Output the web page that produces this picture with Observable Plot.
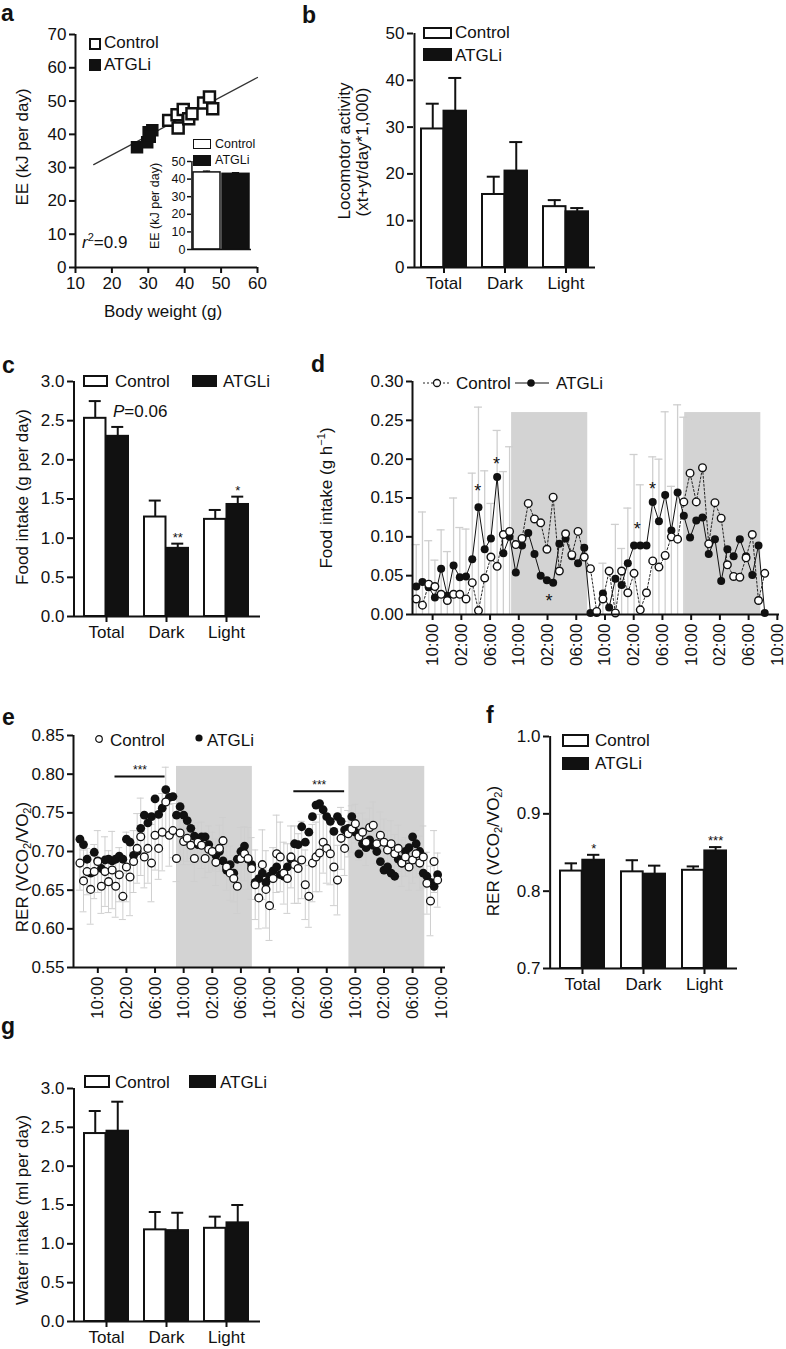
<!DOCTYPE html>
<html>
<head>
<meta charset="utf-8">
<script src="https://cdn.jsdelivr.net/npm/d3@7"></script>
<script src="https://cdn.jsdelivr.net/npm/@observablehq/plot@0.6"></script>
<style>
html,body{margin:0;padding:0;background:#fff;}
#fig{position:relative;width:786px;height:1349px;overflow:hidden;background:#fff;color:#111;
 font-family:"Liberation Sans",Arial,Helvetica,sans-serif;}
.abs{position:absolute;white-space:nowrap;line-height:1;}
.sw{position:absolute;box-sizing:border-box;border:2px solid #111;}
sub{font-size:0.65em;vertical-align:-0.3em;line-height:0;}
sup{font-size:0.65em;vertical-align:0.55em;line-height:0;}
</style>
</head>
<body>
<div id="fig"></div>
<script>
// ================= DATA =================
// Panel a: energy expenditure vs body weight
const aCtrlWeight = [35.6, 37.9, 38.2, 39.6, 41.1, 42.0, 45.2, 46.8, 47.7];
const aCtrlEE     = [44.2, 45.9, 41.9, 47.5, 44.7, 46.2, 49.4, 51.2, 47.7];
const aAtglWeight = [26.9, 29.7, 30.1, 31.1, 30.4];
const aAtglEE     = [36.1, 37.6, 40.6, 41.2, 39.3];
const aFitWeight  = [15, 60];
const aFitEE      = [30.9, 57.1];
const aXTicks = [10, 20, 30, 40, 50, 60];
const aYTicks = [0, 10, 20, 30, 40, 50, 60, 70];
// Panel a inset
const aInsetSeries = ["Control", "ATGLi"];
const aInsetEE  = [43.8, 43.0];
const aInsetErr = [44.5, 43.6];
const aInsetTicks = [0, 10, 20, 30, 40, 50];

// Bar panels (b, c, f, g)
const barGroups = ["Total", "Dark", "Light"];
const bCtrl = [29.6, 15.6, 13.0];  const bCtrlErr = [35.0, 19.4, 14.4];
const bAtgl = [33.4, 20.6, 11.9];  const bAtglErr = [40.5, 26.8, 12.7];
const bTicks = [0, 10, 20, 30, 40, 50];

const cCtrl = [2.53, 1.27, 1.24];  const cCtrlErr = [2.75, 1.48, 1.36];
const cAtgl = [2.30, 0.87, 1.43];  const cAtglErr = [2.42, 0.93, 1.53];
const cStars = ["", "**", "*"];
const cTicks = [0, 0.5, 1.0, 1.5, 2.0, 2.5, 3.0];

const fCtrl = [0.826, 0.825, 0.827];  const fCtrlErr = [0.836, 0.840, 0.832];
const fAtgl = [0.840, 0.822, 0.852];  const fAtglErr = [0.847, 0.833, 0.857];
const fStars = ["*", "", "***"];
const fTicks = [0.7, 0.8, 0.9, 1.0];

const gCtrl = [2.42, 1.18, 1.20];  const gCtrlErr = [2.71, 1.41, 1.35];
const gAtgl = [2.45, 1.17, 1.27];  const gAtglErr = [2.83, 1.40, 1.50];
const gTicks = [0, 0.5, 1.0, 1.5, 2.0, 2.5, 3.0];

// Time axis (hours from first 10:00 tick), shared by d and e
const tickHours  = [0, 4, 8, 12, 16, 20, 24, 28, 32, 36, 40, 44, 48];
const tickLabels = ["10:00","02:00","06:00","10:00","02:00","06:00","10:00","02:00","06:00","10:00","02:00","06:00","10:00"];
const shadeStart = [11.0, 35.1];
const shadeEnd   = [21.6, 45.7];

// Panel d: hourly food intake (g/h)
const dStart = -2.28, dStep = 0.8665;
const dCtrl = [0.020,0.012,0.039,0.036,0.026,0.018,0.026,0.026,0.020,0.041,
               0.005,0.047,0.074,0.062,0.103,0.107,0.090,0.098,0.143,0.123,
               0.118,0.084,0.151,0.056,0.104,0.077,0.107,0.074,0.059,0.004,
               0.020,0.056,0.002,0.056,0.028,0.053,0.006,0.028,0.069,0.061,
               0.076,0.100,0.097,0.145,0.182,0.145,0.189,0.091,0.144,0.124,
               0.064,0.049,0.048,0.073,0.103,0.018,0.053];
const dAtgl = [0.036,0.042,0.035,0.022,0.059,0.024,0.063,0.048,0.049,0.071,
               0.138,0.084,0.098,0.177,0.079,0.100,0.054,0.089,0.105,0.078,
               0.050,0.044,0.041,0.091,0.098,0.075,0.066,0.086,0.002,0.002,
               0.027,0.009,0.046,0.038,0.066,0.089,0.089,0.089,0.145,0.120,
               0.154,0.108,0.157,0.127,0.099,0.121,0.125,0.078,0.097,0.043,
               0.084,0.075,0.097,0.075,0.051,0.089,0.002];
const dErrTop = [0.090,0.132,0.095,0.070,0.109,0.081,0.150,0.112,0.110,0.182,
                 0.267,0.185,0.143,0.237,0.184,0.216,null,null,null,null,
                 null,null,null,null,null,null,null,null,null,null,
                 0.066,null,0.116,0.085,0.137,0.206,0.167,null,0.203,0.200,
                 0.261,0.165,0.270,0.254,null,null,null,null,null,null,
                 null,null,null,null,null,null,null];
const dStarT = [6.3, 8.9, 16.2, 28.5, 30.6];
const dStarY = [0.164, 0.199, 0.022, 0.115, 0.167];
const dYTicks = [0, 0.05, 0.10, 0.15, 0.20, 0.25, 0.30];

// Panel e: RER time course
const eStart = -2.5, eStep = 0.5;
const eCtrl = [0.685,0.662,0.674,0.651,0.674,0.687,0.655,0.674,0.661,0.676,
               0.655,0.670,0.642,0.680,0.667,0.687,0.704,0.719,0.693,0.704,
               0.685,0.721,0.704,0.725,0.764,0.721,0.727,0.691,0.724,0.713,
               0.717,0.708,0.691,0.712,0.708,0.691,0.703,0.700,0.686,0.704,
               0.714,0.680,0.672,0.665,0.655,0.691,0.697,0.691,0.678,0.657,
               0.640,0.683,0.651,0.630,0.665,0.697,0.693,0.672,0.665,0.693,
               0.683,0.678,0.689,0.657,0.642,0.685,0.693,0.698,0.712,0.704,
               0.697,0.680,0.663,0.717,0.704,0.723,0.729,0.736,0.719,0.725,
               0.712,0.731,0.734,0.710,0.721,0.712,0.702,0.710,0.697,0.704,
               0.685,0.693,0.680,0.689,0.697,0.685,0.693,0.659,0.636,0.687,
               0.663];
const eAtgl = [0.716,0.709,0.690,0.672,0.699,0.688,0.678,0.689,0.690,0.688,
               0.690,0.694,0.690,0.716,0.712,0.695,0.700,0.730,0.747,0.737,
               0.745,0.768,0.748,0.756,0.780,0.770,0.771,0.747,0.758,0.747,
               0.740,0.730,0.720,0.709,0.719,0.719,0.709,0.700,0.695,0.700,
               0.688,0.676,0.683,0.672,0.690,0.700,0.707,0.690,0.683,0.660,
               0.665,0.672,0.660,0.668,0.675,0.680,0.670,0.668,0.680,0.690,
               0.710,0.709,0.732,0.712,0.725,0.745,0.760,0.762,0.754,0.745,
               0.739,0.726,0.745,0.739,0.728,0.730,0.745,0.725,0.697,0.710,
               0.705,0.715,0.708,0.700,0.687,0.676,0.680,0.672,0.668,0.690,
               0.685,0.700,0.705,0.719,0.710,0.700,0.672,0.668,0.660,0.655,
               0.670];
const eErr  = [0.035,0.040,0.030,0.045,0.035,0.040,0.035,0.045,0.040,0.050,
               0.040,0.035,0.030,0.045,0.050,0.040,0.045,0.050,0.040,0.045,
               0.050,0.045,0.040,0.050,0.045,0.040,0.035,0.030,0.035,0.030,
               0.030,0.025,0.030,0.025,0.030,0.025,0.030,0.025,0.030,0.030,
               0.030,0.030,0.035,0.030,0.035,0.040,0.035,0.040,0.040,0.045,
               0.040,0.045,0.050,0.045,0.040,0.050,0.045,0.040,0.045,0.040,
               0.050,0.045,0.050,0.045,0.040,0.050,0.045,0.050,0.040,0.045,
               0.040,0.050,0.045,0.040,0.035,0.030,0.030,0.025,0.030,0.025,
               0.030,0.025,0.030,0.025,0.030,0.030,0.025,0.030,0.025,0.030,
               0.030,0.025,0.030,0.030,0.030,0.035,0.040,0.040,0.045,0.040,
               0.035];
const eSigT1 = [2.4, 27.4];
const eSigT2 = [9.4, 34.5];
const eSigY  = [0.797, 0.778];
const eYTicks = [0.55, 0.60, 0.65, 0.70, 0.75, 0.80, 0.85];

// ================= HELPERS =================
const FONT = '"Liberation Sans", Arial, Helvetica, sans-serif';
const INK = "#111";
const SHADE = "#d3d3d3";
const ERR = "#cfcfcf";
const fig = document.getElementById("fig");
const tickLabelOf = new Map(tickHours.map((h, i) => [h, tickLabels[i]]));

function place(svg, left, top) {
  svg.style.position = "absolute";
  svg.style.left = left + "px";
  svg.style.top = top + "px";
  svg.style.overflow = "visible";
  svg.style.background = "transparent";
  svg.style.maxWidth = "none";
  fig.appendChild(svg);
}
function txt(html, x, y, o = {}) {
  const d = document.createElement("div");
  d.className = "abs";
  d.innerHTML = html;
  d.style.left = x + "px";
  d.style.top = y + "px";
  d.style.fontSize = (o.size || 17) + "px";
  if (o.bold) d.style.fontWeight = "bold";
  const ax = o.anchor === "start" ? "0" : o.anchor === "end" ? "-100%" : "-50%";
  d.style.transform = `translate(${ax},-50%)` + (o.rotate ? " rotate(-90deg)" : "");
  fig.appendChild(d);
}
function swatch(x, y, w, h, fill, bw = 2) {
  const d = document.createElement("div");
  d.className = "sw";
  Object.assign(d.style, {left: x + "px", top: y + "px", width: w + "px", height: h + "px", background: fill, borderWidth: bw + "px"});
  fig.appendChild(d);
}
function miniSvg(x, y, w, h, inner) {
  const d = document.createElement("div");
  d.className = "abs";
  d.style.left = x + "px"; d.style.top = y + "px";
  d.innerHTML = `<svg width="${w}" height="${h}" style="display:block;overflow:visible">${inner}</svg>`;
  fig.appendChild(d);
}
const style = (size) => ({fontFamily: FONT, fontSize: size + "px", color: INK, background: "transparent", overflow: "visible"});

function barPanel(cfg) {
  const {left, top, width, height, mL, mR, mT, mB, yDomain, yTicks, fmt, pi, po, ctrl, ctrlErr, atgl, atglErr, stars} = cfg;
  const rows = barGroups.flatMap((g, i) => [
    {group: g, series: "Control", value: ctrl[i], err: ctrlErr[i], star: ""},
    {group: g, series: "ATGLi", value: atgl[i], err: atglErr[i], star: stars ? stars[i] : ""}
  ]);
  const n = barGroups.length;
  const step = (width - mL - mR) / (n - pi + 2 * po);
  const bw = step * (1 - pi);
  const cap = 13;
  const C = rows.filter(d => d.series === "Control");
  const A = rows.filter(d => d.series === "ATGLi");
  const base = yDomain[0];
  place(Plot.plot({
    width, height, marginLeft: mL, marginRight: mR, marginTop: mT, marginBottom: mB,
    style: style(17),
    x: {type: "band", domain: barGroups, paddingInner: pi, paddingOuter: po, align: 0.5},
    y: {domain: yDomain},
    marks: [
      Plot.ruleX(C, {x: "group", y1: "value", y2: "err", dx: -bw / 4, stroke: INK, strokeWidth: 2}),
      Plot.tickY(C, {x: "group", y: "err", insetLeft: bw / 4 - cap / 2, insetRight: 3 * bw / 4 - cap / 2, stroke: INK, strokeWidth: 2}),
      Plot.ruleX(A, {x: "group", y1: "value", y2: "err", dx: bw / 4, stroke: INK, strokeWidth: 2}),
      Plot.tickY(A, {x: "group", y: "err", insetLeft: 3 * bw / 4 - cap / 2, insetRight: bw / 4 - cap / 2, stroke: INK, strokeWidth: 2}),
      Plot.barY(C, {x: "group", y1: base, y2: "value", insetRight: bw / 2, fill: "white", stroke: INK, strokeWidth: 2}),
      Plot.barY(A, {x: "group", y1: base, y2: "value", insetLeft: bw / 2, fill: INK, stroke: INK, strokeWidth: 2}),
      Plot.text(A, {x: "group", y: "err", text: "star", dx: bw / 4, dy: -6, fontSize: 13}),
      Plot.ruleY([base], {stroke: INK, strokeWidth: 2}),
      Plot.ruleX([barGroups[0]], {dx: -(bw / 2 + po * step), stroke: INK, strokeWidth: 2}),
      Plot.axisY({ticks: yTicks, tickFormat: fmt, tickSize: 6, strokeWidth: 2, tickPadding: 3, label: null}),
      Plot.axisX({tickSize: 6, strokeWidth: 2, tickPadding: 3, label: null})
    ]
  }), left, top);
}

// ================= PANEL a =================
const aCtrlRows = aCtrlWeight.map((w, i) => ({w, ee: aCtrlEE[i]}));
const aAtglRows = aAtglWeight.map((w, i) => ({w, ee: aAtglEE[i]}));
const aFitRows  = aFitWeight.map((w, i) => ({w, ee: aFitEE[i]}));
place(Plot.plot({
  width: 300, height: 300, marginLeft: 75, marginRight: 43, marginTop: 34, marginBottom: 33,
  style: style(17),
  x: {domain: [aXTicks[0], aXTicks[aXTicks.length - 1]]},
  y: {domain: [aYTicks[0], aYTicks[aYTicks.length - 1]]},
  marks: [
    Plot.line(aFitRows, {x: "w", y: "ee", stroke: "#333", strokeWidth: 1.2}),
    Plot.dot(aAtglRows, {x: "w", y: "ee", symbol: "square", r: 6.2, fill: INK, stroke: INK, strokeWidth: 1.5}),
    Plot.dot(aCtrlRows, {x: "w", y: "ee", symbol: "square", r: 6.2, fill: "white", stroke: INK, strokeWidth: 2.5}),
    Plot.ruleX([aXTicks[0]], {stroke: INK, strokeWidth: 2}),
    Plot.ruleY([aYTicks[0]], {stroke: INK, strokeWidth: 2}),
    Plot.axisY({ticks: aYTicks, tickSize: 6, strokeWidth: 2, tickPadding: 3, label: null}),
    Plot.axisX({ticks: aXTicks, tickSize: 6, strokeWidth: 2, tickPadding: 3, label: null})
  ]
}), 0, 0);

// inset
{
  const rows = aInsetSeries.map((s, i) => ({series: s, ee: aInsetEE[i], err: aInsetErr[i]}));
  const W = 125, mL = 51, mR = 14, pi = 0.07, po = 0.04;
  const step = (W - mL - mR) / (2 - pi + 2 * po), bw = step * (1 - pi);
  place(Plot.plot({
    width: W, height: 135, marginLeft: mL, marginRight: mR, marginTop: 31, marginBottom: 16,
    style: style(12.5),
    x: {type: "band", domain: aInsetSeries, paddingInner: pi, paddingOuter: po, axis: null},
    y: {domain: [0, 50]},
    marks: [
      Plot.ruleX(rows, {x: "series", y1: "ee", y2: "err", stroke: INK, strokeWidth: 1.5}),
      Plot.tickY(rows, {x: "series", y: "err", insetLeft: bw / 2 - 4, insetRight: bw / 2 - 4, stroke: INK, strokeWidth: 1.5}),
      Plot.barY(rows.filter(d => d.series === "Control"), {x: "series", y1: 0, y2: "ee", fill: "white", stroke: INK, strokeWidth: 1.5}),
      Plot.barY(rows.filter(d => d.series === "ATGLi"), {x: "series", y1: 0, y2: "ee", fill: INK, stroke: INK, strokeWidth: 1.5}),
      Plot.ruleY([0], {stroke: INK, strokeWidth: 1.5}),
      Plot.ruleX([aInsetSeries[0]], {dx: -(bw / 2 + po * step), stroke: INK, strokeWidth: 1.5}),
      Plot.axisY({ticks: aInsetTicks, tickSize: 4, strokeWidth: 1.5, tickPadding: 2, label: null})
    ]
  }), 140, 130);
}

// ================= PANEL b, c, f, g =================
barPanel({left: 300, top: 0, width: 300, height: 300, mL: 113, mR: 5, mT: 33, mB: 33,
  yDomain: [0, 50], yTicks: bTicks, fmt: d3.format("d"), pi: 0.268, po: 0.114,
  ctrl: bCtrl, ctrlErr: bCtrlErr, atgl: bAtgl, atglErr: bAtglErr});
barPanel({left: 0, top: 300, width: 300, height: 360, mL: 73, mR: 40, mT: 81, mB: 44,
  yDomain: [0, 3], yTicks: cTicks, fmt: d3.format(".1f"), pi: 0.262, po: 0.164,
  ctrl: cCtrl, ctrlErr: cCtrlErr, atgl: cAtgl, atglErr: cAtglErr, stars: cStars});
barPanel({left: 460, top: 700, width: 326, height: 300, mL: 89, mR: 49, mT: 36, mB: 32,
  yDomain: [0.7, 1.0], yTicks: fTicks, fmt: d3.format(".1f"), pi: 0.276, po: 0.163,
  ctrl: fCtrl, ctrlErr: fCtrlErr, atgl: fAtgl, atglErr: fAtglErr, stars: fStars});
barPanel({left: 0, top: 1000, width: 300, height: 349, mL: 73, mR: 40, mT: 88, mB: 28,
  yDomain: [0, 3], yTicks: gTicks, fmt: d3.format(".1f"), pi: 0.262, po: 0.164,
  ctrl: gCtrl, ctrlErr: gCtrlErr, atgl: gAtgl, atglErr: gAtglErr});

// ================= PANEL d =================
{
  const rows = dCtrl.map((c, i) => ({t: dStart + dStep * i, ctrl: c, atgl: dAtgl[i], err: dErrTop[i]}));
  const errRows = rows.filter(d => d.err != null);
  const shades = shadeStart.map((s, i) => ({t1: s, t2: shadeEnd[i]}));
  const stars = dStarT.map((t, i) => ({t, y: dStarY[i]}));
  const xDom = [-2.8, 48.3];
  place(Plot.plot({
    width: 486, height: 380, marginLeft: 112, marginRight: 7, marginTop: 81, marginBottom: 66,
    style: style(17),
    x: {domain: xDom}, y: {domain: [0, 0.30]},
    marks: [
      Plot.rect(shades, {x1: "t1", x2: "t2", y1: 0, y2: 0.26, fill: SHADE}),
      Plot.ruleX(errRows, {x: "t", y1: 0, y2: "err", stroke: ERR, strokeWidth: 1.3}),
      Plot.ruleY(errRows, {y: "err", x1: "t", x2: "t", insetLeft: -4, insetRight: -4, stroke: ERR, strokeWidth: 1.3}),
      Plot.line(rows, {x: "t", y: "ctrl", stroke: INK, strokeWidth: 0.9, strokeDasharray: "2,2"}),
      Plot.line(rows, {x: "t", y: "atgl", stroke: INK, strokeWidth: 1}),
      Plot.dot(rows, {x: "t", y: "atgl", r: 4, fill: INK}),
      Plot.dot(rows, {x: "t", y: "ctrl", r: 3.8, fill: "white", stroke: INK, strokeWidth: 1.4}),
      Plot.text(stars, {x: "t", y: "y", text: d => "*", fontSize: 18, dy: 4}),
      Plot.ruleX([xDom[0]], {stroke: INK, strokeWidth: 2}),
      Plot.ruleY([0], {stroke: INK, strokeWidth: 2}),
      Plot.axisY({ticks: dYTicks, tickFormat: d3.format(".2f"), tickSize: 6, strokeWidth: 2, tickPadding: 3, label: null}),
      Plot.axisX({ticks: tickHours, tickFormat: d => tickLabelOf.get(d), tickRotate: -90, tickSize: 6, strokeWidth: 2, tickPadding: 3, label: null})
    ]
  }), 300, 300);
}

// ================= PANEL e =================
{
  const rows = eCtrl.map((c, i) => ({t: eStart + eStep * i, ctrl: c, atgl: eAtgl[i], err: eErr[i]}));
  const shades = shadeStart.map((s, i) => ({t1: s, t2: shadeEnd[i]}));
  const sig = eSigT1.map((t1, i) => ({t1, t2: eSigT2[i], y: eSigY[i], label: "***"}));
  const xDom = [-3.4, 48.6];
  place(Plot.plot({
    width: 460, height: 330, marginLeft: 73, marginRight: 15, marginTop: 35, marginBottom: 63,
    style: style(17),
    x: {domain: xDom}, y: {domain: [0.55, 0.85]},
    marks: [
      Plot.rect(shades, {x1: "t1", x2: "t2", y1: 0.55, y2: 0.81, fill: SHADE}),
      Plot.ruleX(rows, {x: "t", y1: d => d.ctrl - d.err, y2: d => d.ctrl + d.err, stroke: ERR, strokeWidth: 1}),
      Plot.ruleY(rows, {y: d => d.ctrl + d.err, x1: "t", x2: "t", insetLeft: -3.5, insetRight: -3.5, stroke: ERR, strokeWidth: 1}),
      Plot.ruleY(rows, {y: d => d.ctrl - d.err, x1: "t", x2: "t", insetLeft: -3.5, insetRight: -3.5, stroke: ERR, strokeWidth: 1}),
      Plot.dot(rows, {x: "t", y: "atgl", r: 4.4, fill: INK}),
      Plot.dot(rows, {x: "t", y: "ctrl", r: 3.9, fill: "white", stroke: INK, strokeWidth: 1.3}),
      Plot.ruleY(sig, {y: "y", x1: "t1", x2: "t2", stroke: INK, strokeWidth: 2}),
      Plot.text(sig, {x: d => (d.t1 + d.t2) / 2, y: "y", text: "label", fontSize: 12, dy: -6}),
      Plot.ruleX([xDom[0]], {stroke: INK, strokeWidth: 2}),
      Plot.ruleY([0.55], {stroke: INK, strokeWidth: 2}),
      Plot.axisY({ticks: eYTicks, tickFormat: d3.format(".2f"), tickSize: 6, strokeWidth: 2, tickPadding: 3, label: null}),
      Plot.axisX({ticks: tickHours, tickFormat: d => tickLabelOf.get(d), tickRotate: -90, tickSize: 6, strokeWidth: 2, tickPadding: 3, label: null})
    ]
  }), 0, 700);
}

// ================= TEXT, LEGENDS =================
// panel letters
txt("a", 1, 13, {size: 23, bold: true, anchor: "start"});
txt("b", 302, 15, {size: 23, bold: true, anchor: "start"});
txt("c", 2, 365, {size: 23, bold: true, anchor: "start"});
txt("d", 311, 364, {size: 23, bold: true, anchor: "start"});
txt("e", 2, 717, {size: 23, bold: true, anchor: "start"});
txt("f", 486, 715, {size: 23, bold: true, anchor: "start"});
txt("g", 1, 1026, {size: 23, bold: true, anchor: "start"});

// axis titles
txt("EE (kJ per day)", 22, 147, {rotate: true});
txt("Body weight (g)", 163, 311);
txt("EE (kJ per day)", 155, 206, {rotate: true, size: 12.5});
txt("Locomotor activity", 344, 151, {rotate: true});
txt("(xt+yt/day*1,000)", 362, 152, {rotate: true});
txt("Food intake (g per day)", 22, 497, {rotate: true});
txt("Food intake (g h<sup>−1</sup>)", 326, 498, {rotate: true});
txt("RER (VCO<sub>2</sub>/VO<sub>2</sub>)", 22, 867, {rotate: true});
txt("RER (VCO<sub>2</sub>/VO<sub>2</sub>)", 493, 851, {rotate: true});
txt("Water intake (ml per day)", 22, 1210, {rotate: true});

// annotations
txt("<i>r</i><sup>2</sup>=0.9", 82, 242, {anchor: "start"});
txt("<i>P</i>=0.06", 113, 411, {anchor: "start"});

// legends
swatch(89, 38, 12, 12, "white", 2.5); txt("Control", 104, 42, {anchor: "start"});
swatch(89, 59, 12, 12, INK);          txt("ATGLi", 104, 64, {anchor: "start"});
swatch(193, 139, 18, 10, "white", 1.5); txt("Control", 215, 144, {anchor: "start", size: 12.5});
swatch(193, 155, 18, 11, INK, 1.5);     txt("ATGLi", 215, 160, {anchor: "start", size: 12.5});

swatch(423, 27, 29, 12, "white"); txt("Control", 455, 32, {anchor: "start"});
swatch(423, 48, 29, 13, INK);     txt("ATGLi", 455, 55, {anchor: "start"});

swatch(83, 375, 25, 12, "white"); txt("Control", 115, 381, {anchor: "start"});
swatch(192, 375, 25, 12, INK);    txt("ATGLi", 223, 381, {anchor: "start"});

miniSvg(423, 376, 28, 14, `<line x1="0" y1="7" x2="28" y2="7" stroke="#111" stroke-width="0.9" stroke-dasharray="2,2"/><circle cx="14" cy="7" r="3.5" fill="white" stroke="#111" stroke-width="1.3"/>`);
txt("Control", 456, 383, {anchor: "start"});
miniSvg(515, 376, 34, 14, `<line x1="0" y1="7" x2="34" y2="7" stroke="#111" stroke-width="1"/><circle cx="16" cy="7" r="3.8" fill="#111"/>`);
txt("ATGLi", 556, 383, {anchor: "start"});

miniSvg(94, 734, 10, 10, `<circle cx="5" cy="5" r="3.3" fill="white" stroke="#111" stroke-width="1.2"/>`);
txt("Control", 110, 740, {anchor: "start"});
miniSvg(194, 733, 10, 10, `<circle cx="5" cy="5" r="3.6" fill="#111"/>`);
txt("ATGLi", 207, 740, {anchor: "start"});

swatch(562, 734, 27, 13, "white"); txt("Control", 595, 740, {anchor: "start"});
swatch(562, 757, 27, 13, INK);     txt("ATGLi", 595, 763, {anchor: "start"});

swatch(84, 1075, 26, 13, "white"); txt("Control", 115, 1082, {anchor: "start"});
swatch(189, 1075, 27, 13, INK);    txt("ATGLi", 220, 1082, {anchor: "start"});
</script>
</body>
</html>
